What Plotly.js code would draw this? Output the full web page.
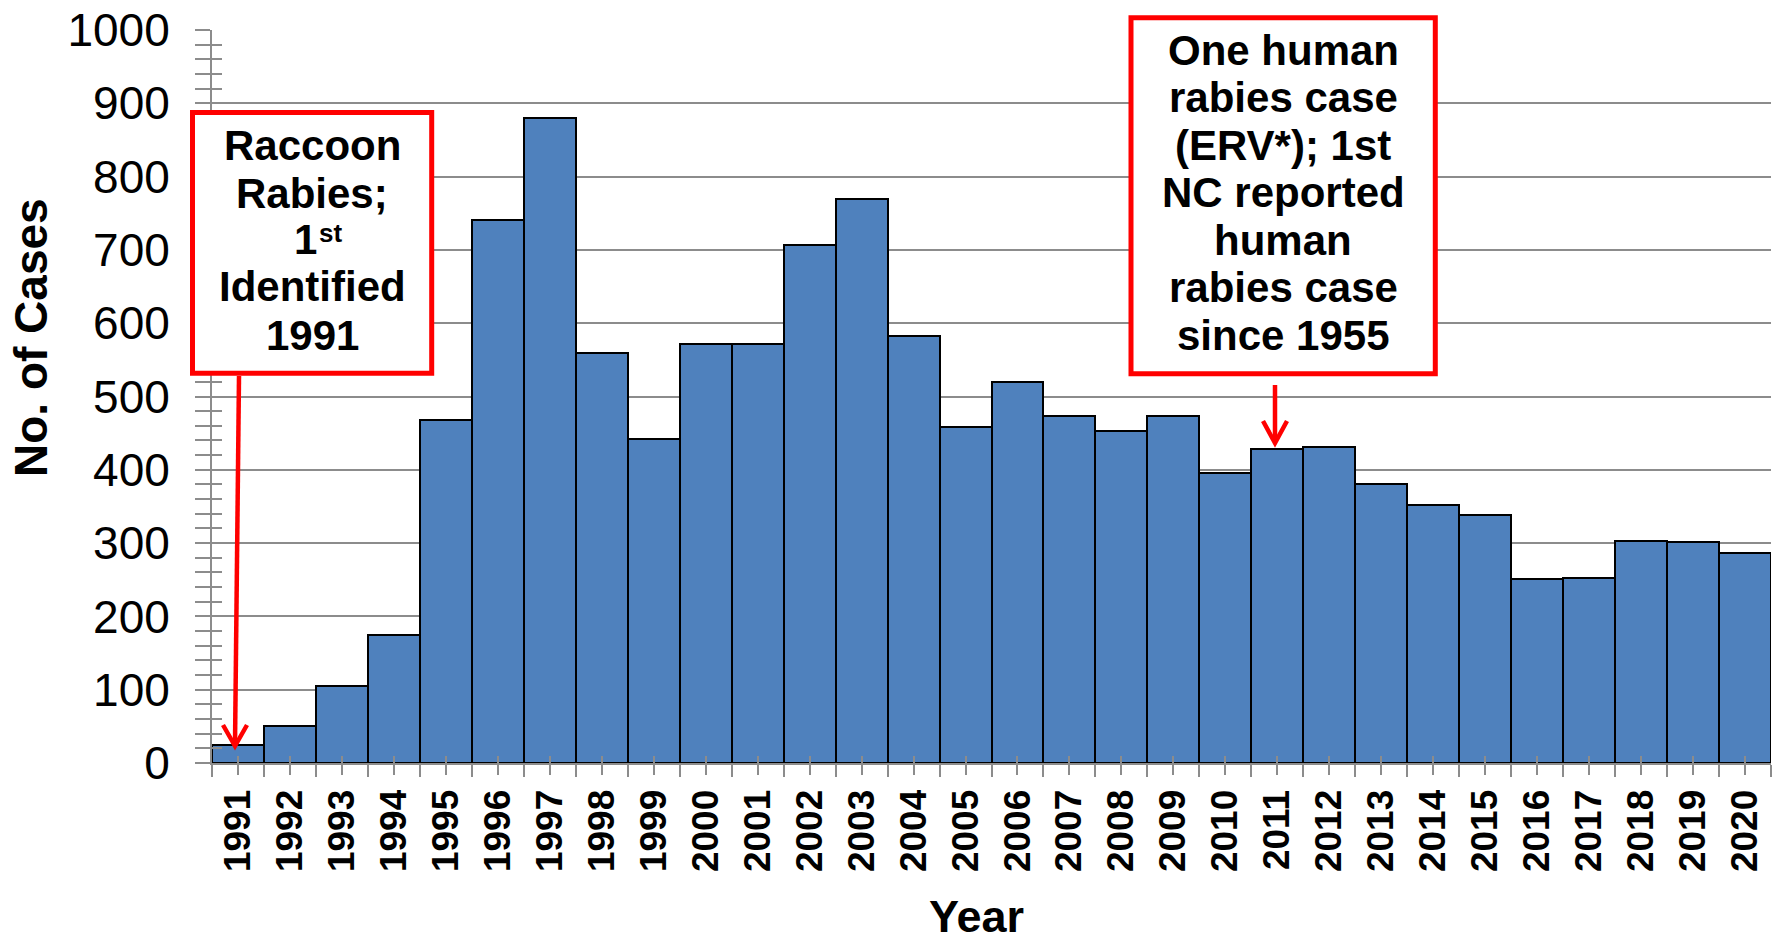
<!DOCTYPE html>
<html>
<head>
<meta charset="utf-8">
<script src="https://cdn.plot.ly/plotly-3.0.1.min.js"></script>
<style>html,body{margin:0;padding:0;background:#fff;}#chart{width:1775px;height:944px;}</style>
</head>
<body>
<div id="chart"></div>
<script>
// ---- data ----
const years = ['1991','1992','1993','1994','1995','1996','1997','1998','1999','2000',
               '2001','2002','2003','2004','2005','2006','2007','2008','2009','2010',
               '2011','2012','2013','2014','2015','2016','2017','2018','2019','2020'];
const cases = [24, 50, 105, 175, 468, 741, 880, 560, 442, 572,
               572, 707, 770, 583, 458, 520, 474, 453, 473, 396,
               429, 431, 380, 352, 339, 251, 253, 303, 301, 287];
const yTickVals = [0,100,200,300,400,500,600,700,800,900,1000];
const leftNote = ['Raccoon','Rabies;','1','Identified','1991'];
const leftNoteSup = 'st';
const rightNote = ['One human','rabies case','(ERV*); 1st','NC reported','human','rabies case','since 1955'];

// ---- layout geometry ----
const W = 1775, H = 944, L = 212, R = 4, T = 30, B = 181;
const PW = W - L - R, PH = H - T - B;
const px = x => (x - L) / PW;
const py = y => (H - B - y) / PH;

const idx = years.map((_, i) => i);
const FONT = 'Liberation Sans, Arial, sans-serif';
const GRID = '#8c8c8c';
const RED = '#ff0000';

const traces = [
  {
    type: 'bar', x: idx, y: cases, width: 1,
    marker: {color: '#4f81bd', line: {color: '#000000', width: 2}},
    hoverinfo: 'x+y'
  },
  {type: 'scatter', x: [], y: [], xaxis: 'x2', yaxis: 'y2', showlegend: false, hoverinfo: 'skip'}
];

const annotations = [];
const NOTE_SIZE = 42;
function addLine(t, baseline, cx, size) {
  annotations.push({
    xref: 'paper', yref: 'paper', x: px(cx), y: py(baseline - 0.3465 * size),
    xanchor: 'center', yanchor: 'middle', showarrow: false, text: '<b>' + t + '</b>',
    font: {family: FONT, size: size, color: '#000'}
  });
}
[160, 208, 254, 301.5, 350].forEach((b, i) => addLine(leftNote[i], b, i === 2 ? 305 : 312, NOTE_SIZE));
addLine(leftNoteSup, 242, 330, 26);
[65, 111.7, 160, 206.7, 255, 301.7, 350].forEach((b, i) => addLine(rightNote[i], b, 1283, NOTE_SIZE));

// axis titles
annotations.push({
  xref: 'paper', yref: 'paper', x: px(31), y: py(338), xanchor: 'center', yanchor: 'middle',
  textangle: -90, showarrow: false, text: '<b>No. of Cases</b>',
  font: {family: FONT, size: 46, color: '#000'}
});
annotations.push({
  xref: 'paper', yref: 'paper', x: px(976), y: py(916), xanchor: 'center', yanchor: 'middle',
  showarrow: false, text: '<b>Year</b>',
  font: {family: FONT, size: 45, color: '#000'}
});

const shapes = [
  // boxes
  {type: 'rect', xref: 'paper', yref: 'paper', x0: px(192.5), x1: px(431.7), y0: py(373.3), y1: py(112.5),
   line: {color: RED, width: 5}, fillcolor: '#ffffff', layer: 'above'},
  {type: 'rect', xref: 'paper', yref: 'paper', x0: px(1131), x1: px(1435.3), y0: py(373.8), y1: py(17.8),
   line: {color: RED, width: 5}, fillcolor: '#ffffff', layer: 'above'},
  // left arrow
  {type: 'line', xref: 'paper', yref: 'paper', x0: px(239), y0: py(376), x1: px(235), y1: py(745),
   line: {color: RED, width: 4.5}, layer: 'above'},
  {type: 'path', xref: 'paper', yref: 'paper',
   path: `M ${px(223)} ${py(725)} L ${px(235)} ${py(746)} L ${px(247)} ${py(725)}`,
   line: {color: RED, width: 4.5}, layer: 'above'},
  // right arrow
  {type: 'line', xref: 'paper', yref: 'paper', x0: px(1275), y0: py(385), x1: px(1275), y1: py(442),
   line: {color: RED, width: 4.5}, layer: 'above'},
  {type: 'path', xref: 'paper', yref: 'paper',
   path: `M ${px(1263)} ${py(421)} L ${px(1275)} ${py(443)} L ${px(1287)} ${py(421)}`,
   line: {color: RED, width: 4.5}, layer: 'above'}
];

const layout = {
  width: W, height: H,
  margin: {l: L, r: R, t: T, b: B, pad: 0},
  paper_bgcolor: '#fff', plot_bgcolor: '#fff',
  showlegend: false, bargap: 0,
  font: {family: FONT, color: '#000'},
  xaxis: {
    range: [-0.5, years.length - 0.5], tickmode: 'array', tickvals: idx, ticktext: years,
    tickangle: -90, tickfont: {family: FONT, size: 37, color: '#000', weight: 'bold'},
    ticks: 'outside', ticklen: 10, tickwidth: 2, tickcolor: GRID,
    minor: {tick0: -0.5, dtick: 1, ticks: 'outside', ticklen: 12, tickwidth: 2, tickcolor: GRID, showgrid: false},
    showline: true, linecolor: GRID, linewidth: 2, showgrid: false, zeroline: false,
    ticklabelstandoff: 0, fixedrange: true
  },
  xaxis2: {
    overlaying: 'x', anchor: 'y', range: [-0.5, years.length - 0.5], tickmode: 'array', tickvals: idx,
    ticks: 'inside', ticklen: 7, tickwidth: 2, tickcolor: GRID, showticklabels: false,
    showgrid: false, showline: false, zeroline: false, fixedrange: true
  },
  yaxis: {
    range: [0, 1000], tickmode: 'array', tickvals: yTickVals,
    tickfont: {family: FONT, size: 46, color: '#000'},
    ticks: 'outside', ticklen: 15, tickwidth: 2, tickcolor: GRID,
    minor: {dtick: 20, ticks: 'outside', ticklen: 15, tickwidth: 2, tickcolor: GRID, showgrid: false},
    showline: true, linecolor: GRID, linewidth: 2,
    showgrid: true, gridcolor: GRID, gridwidth: 2, zeroline: false,
    ticklabelstandoff: 16, fixedrange: true
  },
  yaxis2: {
    overlaying: 'y', anchor: 'x', range: [0, 1000], tickmode: 'array', tickvals: yTickVals,
    ticks: 'inside', ticklen: 10, tickwidth: 2, tickcolor: GRID, showticklabels: false,
    minor: {dtick: 20, ticks: 'inside', ticklen: 10, tickwidth: 2, tickcolor: GRID, showgrid: false},
    showgrid: false, showline: false, zeroline: false, fixedrange: true
  },
  shapes: shapes,
  annotations: annotations
};

Plotly.newPlot('chart', traces, layout, {displayModeBar: false});
</script>
</body>
</html>
